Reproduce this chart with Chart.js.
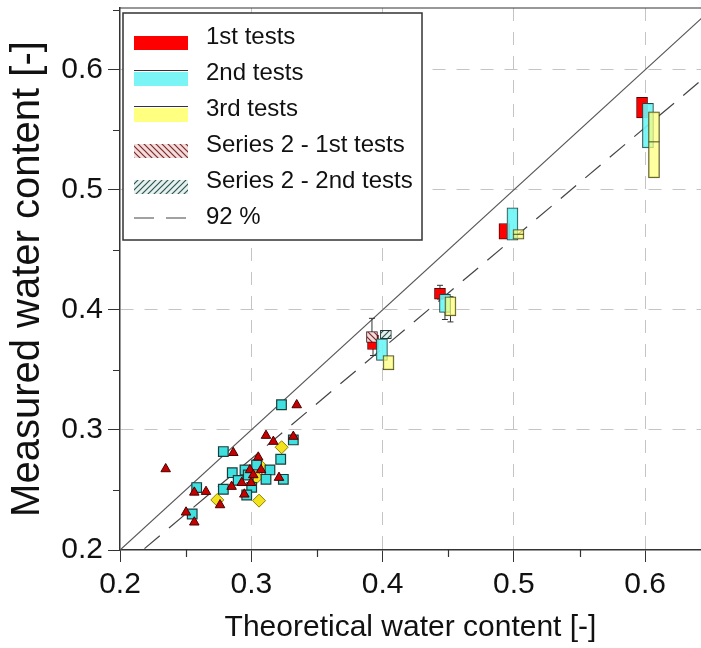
<!DOCTYPE html>
<html>
<head>
<meta charset="utf-8">
<title>Measured vs theoretical water content</title>
<script src="https://cdn.jsdelivr.net/npm/chart.js@4.4.1/dist/chart.umd.min.js"></script>
<style>
  html, body { margin: 0; padding: 0; background: #fff; }
</style>
</head>
<body>
<canvas id="chart" width="701" height="648"></canvas>
<script>
// single measurements
const firstX = [0.3346, 0.2863, 0.2348, 0.3112, 0.3168, 0.3320, 0.3053, 0.2990, 0.3074, 0.3015, 0.2927, 0.2998, 0.3211, 0.2850, 0.2947, 0.2655, 0.2566, 0.2762, 0.2503, 0.2566];
const firstY = [0.3208, 0.2810, 0.2675, 0.2953, 0.2903, 0.2945, 0.2772, 0.2667, 0.2667, 0.2625, 0.2560, 0.2560, 0.2603, 0.2528, 0.2464, 0.2486, 0.2480, 0.2375, 0.2314, 0.2231];

const secondX = [0.3230, 0.2787, 0.2584, 0.2787, 0.2550, 0.2855, 0.2952, 0.2900, 0.2977, 0.3040, 0.3142, 0.3112, 0.3244, 0.3224, 0.3320, 0.3003, 0.2965];
const secondY = [0.3210, 0.2820, 0.2520, 0.2506, 0.2300, 0.2644, 0.2667, 0.2580, 0.2625, 0.2708, 0.2667, 0.2589, 0.2589, 0.2756, 0.2917, 0.2522, 0.2458];

const thirdX = [0.3231, 0.2741, 0.3059, 0.3080, 0.3040];
const thirdY = [0.2856, 0.2417, 0.2411, 0.2690, 0.2606];

// boxes: centre, bottom, top, whisker ends (null = no whisker)
const boxFirstX = [0.3927, 0.4437, 0.4928, 0.5976];
const boxFirstLow = [0.367, 0.409, 0.459, 0.560];
const boxFirstHigh = [0.379, 0.418, 0.472, 0.577];
const whiskFirstMin = [0.362, 0.409, null, null];
const whiskFirstMax = [0.379, 0.4205, null, null];

const boxSecondX = [0.3995, 0.4475, 0.4989, 0.6021];
const boxSecondLow = [0.358, 0.398, 0.458, 0.535];
const boxSecondHigh = [0.376, 0.413, 0.485, 0.572];
const whiskSecondMin = [null, 0.392, null, null];
const whiskSecondMax = [null, 0.413, null, null];

const boxThirdX = [0.4045, 0.4517, 0.5035, 0.6067];
const boxThirdLow = [0.350, 0.395, 0.459, 0.510];
const boxThirdHigh = [0.362, 0.411, 0.467, 0.565];
const boxThirdMedian = [null, null, 0.463, 0.540];
const whiskThirdMin = [null, 0.390, null, null];
const whiskThirdMax = [null, 0.411, null, null];

const boxS2FirstX = [0.3919];
const boxS2FirstLow = [0.373];
const boxS2FirstHigh = [0.382];
const whiskS2FirstMin = [0.373];
const whiskS2FirstMax = [0.393];

const boxS2SecondX = [0.4025];
const boxS2SecondLow = [0.376];
const boxS2SecondHigh = [0.383];

// reference lines
const lineX = [0.2, 0.65];
const ratio92 = 0.92;

const FONT = "'Liberation Sans', Arial, sans-serif";

function points(xs, ys) {
  return xs.map((x, i) => ({ x: x, y: ys[i] }));
}

function boxes(xs, lows, highs) {
  return xs.map((x, i) => ({ x: x, y: [lows[i], highs[i]] }));
}

function whiskers(xs, lows, highs) {
  const pts = [];
  xs.forEach((x, i) => {
    if (lows[i] == null) return;
    pts.push({ x: x, y: lows[i] }, { x: x, y: highs[i] }, { x: x, y: null });
  });
  return pts;
}

function hatch(bg, fg, rising) {
  const c = document.createElement("canvas");
  c.width = c.height = 6;
  const g = c.getContext("2d");
  g.fillStyle = bg;
  g.fillRect(0, 0, 6, 6);
  g.strokeStyle = fg;
  g.lineWidth = 1.2;
  g.beginPath();
  if (rising) {
    g.moveTo(-1, 7); g.lineTo(7, -1);
    g.moveTo(-1, 1); g.lineTo(1, -1);
    g.moveTo(5, 7); g.lineTo(7, 5);
  } else {
    g.moveTo(-1, -1); g.lineTo(7, 7);
    g.moveTo(-1, 5); g.lineTo(1, 7);
    g.moveTo(5, -1); g.lineTo(7, 1);
  }
  g.stroke();
  return g.createPattern(c, "repeat");
}

const isMajor = (v) => Math.abs(v * 10 - Math.round(v * 10)) < 1e-6;

const hatchS2First = hatch("#f4dcdc", "#7a2a2a", false);
const hatchS2Second = hatch("#e6f0ee", "#2e5552", true);

const boxStyle = {
  type: "bar",
  grouped: false,
  barThickness: 11,
  borderWidth: 1,
  borderSkipped: false,
};

const whiskerStyle = {
  type: "line",
  borderColor: "#333",
  borderWidth: 1,
  pointStyle: "line",
  pointRadius: 3,
  pointBorderColor: "#333",
  pointBorderWidth: 1,
  spanGaps: false,
  order: 9,
};

// legend drawn inside the plot, framed
const legendBox = {
  id: "legendBox",
  afterDatasetsDraw(chart) {
    const { ctx, chartArea } = chart;
    const x0 = chartArea.left + 3, y0 = chartArea.top + 5;
    const w = 299, h = 227;
    const items = chart.data.datasets.filter((d) => d.legend);
    ctx.save();
    ctx.fillStyle = "#fff";
    ctx.fillRect(x0, y0, w, h);
    ctx.strokeStyle = "#333";
    ctx.lineWidth = 1.5;
    ctx.strokeRect(x0, y0, w, h);
    ctx.font = "24px " + FONT;
    ctx.textBaseline = "middle";
    items.forEach((d, i) => {
      const cy = y0 + 24 + i * 36;
      const sx = x0 + 11, sw = 54;
      if (d.legend === "line") {
        ctx.strokeStyle = d.borderColor;
        ctx.lineWidth = 1.2;
        ctx.setLineDash([20, 12]);
        ctx.beginPath();
        ctx.moveTo(sx, cy + 1);
        ctx.lineTo(sx + sw, cy + 1);
        ctx.stroke();
        ctx.setLineDash([]);
      } else {
        ctx.fillStyle = d.legendFill || d.backgroundColor;
        ctx.fillRect(sx, cy - 1, sw, 14);
        if (d.legend === "median") {
          ctx.strokeStyle = "#333";
          ctx.lineWidth = 1;
          ctx.beginPath();
          ctx.moveTo(sx, cy - 2.5);
          ctx.lineTo(sx + sw, cy - 2.5);
          ctx.stroke();
        }
      }
      ctx.fillStyle = "#111";
      ctx.fillText(d.label, x0 + 83, cy);
    });
    ctx.restore();
  },
};

// top frame line and short minor ticks
const axisExtras = {
  id: "axisExtras",
  afterDraw(chart) {
    const { ctx, chartArea, scales } = chart;
    ctx.save();
    ctx.strokeStyle = "#333";
    ctx.lineWidth = 1.2;
    ctx.beginPath();
    ctx.moveTo(chartArea.left, chartArea.top);
    ctx.lineTo(chartArea.right, chartArea.top);
    scales.x.ticks.forEach((t) => {
      if (isMajor(t.value)) return;
      const px = Math.round(scales.x.getPixelForValue(t.value)) + 0.5;
      ctx.moveTo(px, chartArea.bottom);
      ctx.lineTo(px, chartArea.bottom + 7);
    });
    scales.y.ticks.forEach((t) => {
      if (isMajor(t.value)) return;
      const py = Math.round(scales.y.getPixelForValue(t.value)) + 0.5;
      ctx.moveTo(chartArea.left, py);
      ctx.lineTo(chartArea.left - 7, py);
    });
    ctx.stroke();
    ctx.restore();
  },
};

function axis(min, max, title, titleSize, titlePad, tickPad) {
  return {
    type: "linear",
    min: min,
    max: max,
    offset: false,
    ticks: {
      stepSize: 0.05,
      includeBounds: false,
      padding: tickPad,
      color: "#111",
      font: { size: 30, family: FONT },
      callback: (v) => (isMajor(v) ? v.toFixed(1) : ""),
    },
    grid: {
      offset: false,
      color: (c) => (c.tick && isMajor(c.tick.value) && c.tick.value > 0.21 ? "#c4c4c4" : "rgba(0,0,0,0)"),
      tickColor: (c) => (c.tick && isMajor(c.tick.value) ? "#333" : "rgba(0,0,0,0)"),
      tickLength: 12,
      lineWidth: 1,
    },
    border: { display: true, color: "#333", width: 1.5, dash: [13, 11] },
    title: {
      display: true,
      text: title,
      color: "#111",
      font: { size: titleSize, family: FONT },
      padding: titlePad,
    },
  };
}

const xAxis = axis(0.2, 0.6425, "Theoretical water content [-]", 30, { top: 0, bottom: 2 }, 5);
xAxis.afterFit = (s) => {
  s.height = 98;
  s.paddingLeft = 0;
  s.paddingRight = 0;
};
const yAxis = axis(0.2, 0.6515, "Measured water content [-]", 40, { top: 4, bottom: 0 }, 5);
yAxis.afterFit = (s) => {
  s.width = 120;
  s.paddingTop = 0;
  s.paddingBottom = 0;
};

new Chart(document.getElementById("chart"), {
  type: "scatter",
  data: {
    datasets: [
      {
        type: "line",
        label: "1:1",
        data: lineX.map((x) => ({ x: x, y: x })),
        borderColor: "#555",
        borderWidth: 1.2,
        pointRadius: 0,
        order: 10,
      },
      Object.assign({}, whiskerStyle, { label: "whiskers 1", data: whiskers(boxFirstX, whiskFirstMin, whiskFirstMax) }),
      Object.assign({}, whiskerStyle, { label: "whiskers 2", data: whiskers(boxSecondX, whiskSecondMin, whiskSecondMax) }),
      Object.assign({}, whiskerStyle, { label: "whiskers 3", data: whiskers(boxThirdX, whiskThirdMin, whiskThirdMax) }),
      Object.assign({}, whiskerStyle, { label: "whiskers S2", data: whiskers(boxS2FirstX, whiskS2FirstMin, whiskS2FirstMax) }),
      Object.assign({}, boxStyle, {
        label: "1st tests",
        legend: "box",
        data: boxes(boxFirstX, boxFirstLow, boxFirstHigh),
        backgroundColor: "#ff0000",
        borderColor: "#5a0000",
        order: 8,
      }),
      Object.assign({}, boxStyle, {
        label: "2nd tests",
        legend: "median",
        data: boxes(boxSecondX, boxSecondLow, boxSecondHigh),
        backgroundColor: "rgba(110,246,246,0.9)",
        legendFill: "#7af4f4",
        borderColor: "#264646",
        order: 6,
      }),
      Object.assign({}, boxStyle, {
        label: "3rd tests",
        legend: "median",
        data: boxes(boxThirdX, boxThirdLow, boxThirdHigh),
        backgroundColor: "rgba(255,255,120,0.7)",
        legendFill: "#ffff80",
        borderColor: "#4a4a20",
        order: 4,
      }),
      Object.assign({}, boxStyle, {
        label: "Series 2 - 1st tests",
        legend: "box",
        data: boxes(boxS2FirstX, boxS2FirstLow, boxS2FirstHigh),
        backgroundColor: hatchS2First,
        borderColor: "#3a1a1a",
        order: 7,
      }),
      Object.assign({}, boxStyle, {
        label: "Series 2 - 2nd tests",
        legend: "box",
        data: boxes(boxS2SecondX, boxS2SecondLow, boxS2SecondHigh),
        backgroundColor: hatchS2Second,
        borderColor: "#1f3533",
        order: 5,
      }),
      {
        type: "line",
        label: "92 %",
        legend: "line",
        data: lineX.map((x) => ({ x: x, y: x * ratio92 })),
        borderColor: "#444",
        borderWidth: 1.2,
        borderDash: [20, 12],
        pointRadius: 0,
        order: 10,
      },
      {
        label: "3rd tests median",
        data: points(boxThirdX, boxThirdMedian).filter((p) => p.y != null),
        pointStyle: "line",
        pointRadius: 5.5,
        pointBorderColor: "#4a4a20",
        pointBorderWidth: 1,
        order: 3,
      },
      {
        label: "3rd tests points",
        data: points(thirdX, thirdY),
        pointStyle: "rectRot",
        pointRadius: 6.5,
        pointBackgroundColor: "#f2e31c",
        pointBorderColor: "#8c7f00",
        pointBorderWidth: 1,
        order: 2.5,
      },
      {
        label: "2nd tests points",
        data: points(secondX, secondY),
        pointStyle: "rect",
        pointRadius: 6.8,
        pointBackgroundColor: "#3fe0e0",
        pointBorderColor: "#1d3c3c",
        pointBorderWidth: 1.2,
        order: 2,
      },
      {
        label: "1st tests points",
        data: points(firstX, firstY),
        pointStyle: "triangle",
        pointRadius: 5.5,
        pointBackgroundColor: "#c40000",
        pointBorderColor: "#4a0000",
        pointBorderWidth: 1,
        order: 1,
      },
    ],
  },
  options: {
    responsive: false,
    animation: false,
    events: [],
    layout: { autoPadding: false, padding: { top: 8, right: 0, bottom: 0, left: 0 } },
    scales: { x: xAxis, y: yAxis },
    plugins: {
      legend: { display: false },
      tooltip: { enabled: false },
    },
  },
  plugins: [legendBox, axisExtras],
});
</script>
</body>
</html>
